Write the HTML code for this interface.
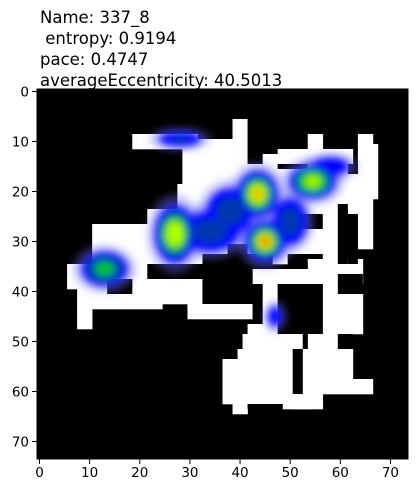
<!DOCTYPE html>
<html><head><meta charset="utf-8"><style>
html,body{margin:0;padding:0;background:#fff;width:416px;height:492px;overflow:hidden}
svg text{font-family:"DejaVu Sans","Liberation Sans",sans-serif}
</style></head><body>
<svg id="chart" width="416" height="492" xmlns="http://www.w3.org/2000/svg">
<defs>
<filter id="blur" x="-50%" y="-50%" width="200%" height="200%"><feGaussianBlur stdDeviation="4"/></filter>
<clipPath id="clip"><rect x="37" y="89" width="371" height="370"/></clipPath>
</defs>
<g font-size="16.5" fill="#000">
<text x="40" y="23">Name: 337_8</text>
<text x="40" y="44">&#160;entropy: 0.9194</text>
<text x="40" y="65">pace: 0.4747</text>
<text x="40" y="86">averageEccentricity: 40.5013</text>
</g>
<g id="plot" clip-path="url(#clip)"></g>
<g id="axes"></g>
</svg>
<script>
const xTicks=[0,10,20,30,40,50,60,70];
const yTicks=[0,10,20,30,40,50,60,70];
const whiteRects=[[19,9,32,12],[32,10,39,12],[39,6,42,15],[29,12,39,15],[29,15,62,19],[45,13,48,15],[48,12,63,15],[54,9,57,12],[64,9,67,23],[67,11,68,22],[28,19,60,24],[62,17,64,24],[60,15,62,24],[22,24,60,27],[62,23,64,25],[64,23,67,32],[11,27,60,35],[57,27,60,52],[6,35,22,38],[6,38,14,40],[8,40,25,44],[19,38,33,43],[8,44,11,48],[30,43,43,46],[43,36,65,39],[54,34,65,36],[45,39,48,47],[60,41,65,49],[42,47,48,49],[41,49,53,52],[40,52,51,54],[37,54,51,63],[53,52,63,58],[53,58,67,61],[51,61,57,64],[39,63,42,65],[49,63,55,64],[54,49,57,52]];
const blackRects=[[48,25,57,28],[38,31,42,33],[33,33,43,36],[43,33,47,36],[33,36,43,43],[50,33,57,34],[50,34,54,36],[22,35,33,38],[14,38,19,41],[43,39,45,47],[48,39,57,49],[60,37,65,41],[60,23,62,35],[62,25,64,35],[42,6,45,15],[62,15,64,17],[48,15,54,16],[60,49,63,52],[51,52,53,61],[53,49,54,52],[25,44,30,46],[42,63,49,64]];
const blobX=[28,13,27,34,43.5,45,54.5,47,38,50,58];
const blobY=[9.5,35.5,28.5,28,20.5,30,18,45,24,26,15];
const blobV=[0.35,0.55,0.78,0.45,0.85,1.0,0.68,0.25,0.45,0.45,0.3];
const blobRx=[4,4,3.5,5,3.5,3.5,4,1.8,4,3,4];
const blobRy=[1.5,3,5,3.5,4,3.5,3,2.5,4,4,2];
const X=c=>37+c*371/74, Y=r=>89+r*370/74;
const NS="http://www.w3.org/2000/svg";
const plot=document.getElementById('plot'), axes=document.getElementById('axes');
function mk(t,a,p){const e=document.createElementNS(NS,t);for(const k in a)e.setAttribute(k,a[k]);p.appendChild(e);return e;}
const bg=mk('rect',{x:37,y:89,width:371,height:370,fill:'#000'},plot);


whiteRects.forEach(r=>{const e=mk('rect',{x:X(r[0]),y:Y(r[1]),width:X(r[2])-X(r[0])+0.3,height:Y(r[3])-Y(r[1])+0.3,fill:'#fff'},plot);

});
blackRects.forEach(r=>{const e=mk('rect',{x:X(r[0]),y:Y(r[1]),width:X(r[2])-X(r[0]),height:Y(r[3])-Y(r[1]),fill:'#000'},plot);

});
const hg=mk('g',{filter:'url(#blur)'},plot);


const layers=[[0.0,'rgba(110,110,255,0.35)',1.6],[0.05,'#0000ff',1.2],[0.3,'#0038b0',0.95],[0.45,'#00c800',0.72],[0.6,'#b0ff00',0.5],[0.78,'#ffb000',0.32],[0.92,'#ff0000',0.2]];
layers.forEach(L=>{blobX.forEach((bx,i)=>{const v=blobV[i];if(v<=L[0])return;const s=L[2]*Math.min(1,(v-L[0])/(1-L[0])*1.8+0.35);
const e=mk('ellipse',{cx:X(bx+0.5),cy:Y(blobY[i]+0.5),rx:blobRx[i]*s*5,ry:blobRy[i]*s*5,fill:L[1]},hg);

});});
const fr=mk('rect',{x:37,y:89,width:371,height:370,fill:'none',stroke:'#000','stroke-width':1},axes);


xTicks.forEach(t=>{const x=X(t+0.5);mk('line',{x1:x,x2:x,y1:459,y2:464,stroke:'#000'},axes);
const tx=mk('text',{x:x,y:477,'text-anchor':'middle','font-size':13.5},axes);tx.textContent=t;

});
yTicks.forEach(t=>{const y=Y(t+0.5);mk('line',{x1:32,x2:37,y1:y,y2:y,stroke:'#000'},axes);
const tx=mk('text',{x:29,y:y+5,'text-anchor':'end','font-size':13.5},axes);tx.textContent=t;

});
</script>
</body></html>
